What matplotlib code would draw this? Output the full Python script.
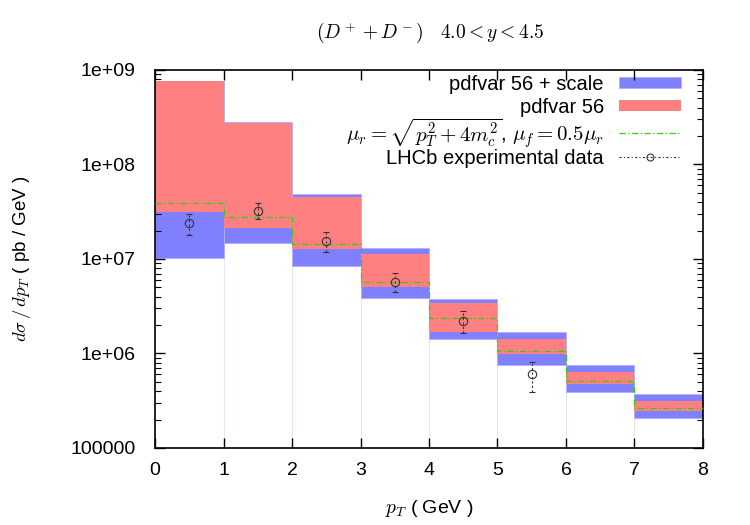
import numpy as np
import matplotlib
matplotlib.use('Agg')
import matplotlib.pyplot as plt
from matplotlib.patches import Rectangle
from matplotlib.lines import Line2D

plt.rcParams['font.family'] = ['Liberation Sans', 'DejaVu Sans']
plt.rcParams['mathtext.fontset'] = 'cm'

# %% data
edges = [0, 1, 2, 3, 4, 5, 6, 7, 8]
# pdfvar 56 + scale band
blue_lo = [1.03e7, 1.49e7, 8.5e6, 3.84e6, 1.44e6, 7.61e5, 3.94e5, 2.06e5]
blue_hi = [7.66e8, 2.80e8, 4.88e7, 1.30e7, 3.80e6, 1.70e6, 7.55e5, 3.72e5]
# pdfvar 56 band
red_lo = [3.16e7, 2.14e7, 1.27e7, 5.06e6, 1.68e6, 9.88e5, 4.79e5, 2.48e5]
red_hi = [7.66e8, 2.77e8, 4.53e7, 1.13e7, 3.45e6, 1.42e6, 6.41e5, 3.14e5]
# central scale choice
central = [3.88e7, 2.81e7, 1.44e7, 5.67e6, 2.38e6, 1.05e6, 5.16e5, 2.63e5]
# LHCb data
lhcb_pt = [0.5, 1.5, 2.5, 3.5, 4.5, 5.5]
lhcb_val = [2.39e7, 3.24e7, 1.55e7, 5.70e6, 2.22e6, 6.03e5]
lhcb_up = [2.99e7, 3.95e7, 1.92e7, 7.10e6, 2.82e6, 8.19e5]
lhcb_dn = [1.80e7, 2.63e7, 1.19e7, 4.43e6, 1.66e6, 3.88e5]

labels = ['pdfvar 56 + scale', 'pdfvar 56',
          r'$\mu_r = \sqrt{p_T^2 + 4m_c^2}$, $\mu_f = 0.5\mu_r$',
          'LHCb experimental data']

# %% plot
fig = plt.figure(figsize=(7.5, 5.25), dpi=100)
ax = fig.add_axes([0.2067, 0.1467, 0.7306, 0.72])

left = np.array(edges[:-1])
blue_lo = np.array(blue_lo); blue_hi = np.array(blue_hi)
red_lo = np.array(red_lo); red_hi = np.array(red_hi)

ax.vlines(left[1:], 1e5, blue_lo[1:], colors='#e4e4f4', lw=0.8, zorder=0)
ax.bar(left, blue_hi - blue_lo, bottom=blue_lo, width=1, align='edge',
       color='#8080ff', edgecolor='#b0b0ff', lw=0.6, zorder=1)
ax.bar(left, red_hi - red_lo, bottom=red_lo, width=1, align='edge',
       color='#ff8080', lw=0, zorder=2)
green_ls = (0, (5, 2, 1, 2))
ax.stairs(central, edges, baseline=None, color='#33cc11', lw=0.9,
          linestyle=green_ls, zorder=3)

val = np.array(lhcb_val)
err = [val - np.array(lhcb_dn), np.array(lhcb_up) - val]
eb = ax.errorbar(lhcb_pt, val, yerr=err, fmt='o', ms=6, mfc='none',
                 mec='#333333', mew=0.8, ecolor='#333333', elinewidth=0.8,
                 capsize=2, capthick=0.8, zorder=4)
eb[2][0].set_linestyle((0, (2, 2)))

ax.set_yscale('log')
ax.set_xlim(0, 8)
ax.set_ylim(1e5, 1e9)
ax.set_xticks(range(0, 9))
ax.set_yticks([1e5, 1e6, 1e7, 1e8, 1e9])
ax.set_yticklabels(['100000', '1e+06', '1e+07', '1e+08', '1e+09'])
ax.tick_params(which='both', direction='in', top=True, right=True, labelsize=14)
ax.tick_params(which='major', length=7, width=1)
ax.tick_params(which='minor', length=4, width=0.8)
ax.tick_params(axis='y', pad=14)
ax.tick_params(axis='x', pad=10)
ax.xaxis.set_minor_locator(matplotlib.ticker.NullLocator())
for s in ax.spines.values():
    s.set_linewidth(1.2)

ax.set_xlabel(r'$p_T$ ( GeV )', fontsize=14, labelpad=14)
ax.set_ylabel(r'$d\sigma\,/\,dp_T$ ( pb / GeV )', fontsize=13.5, labelpad=27)
fig.text(0.573, 0.937, r'$(D^+ + D^-)\quad 4.0 < y < 4.5$', ha='center',
         va='center', fontsize=14)

# %% key, gnuplot style (text right aligned, sample on the right)
tr = ax.transAxes
text_x, h0, h1 = 0.819, 0.847, 0.960
rows = [0.966, 0.905, 0.834, 0.769]
base = [0.0185, 0.0185, 0.023, 0.0185]
sizes = [14.5, 14.5, 15, 14.5]
for lab, ry, b, fs in zip(labels, rows, base, sizes):
    ax.text(text_x, ry - b, lab, transform=tr, ha='right', va='baseline',
            fontsize=fs)
ax.add_patch(Rectangle((h0, rows[0] - 0.0145), h1 - h0, 0.029, transform=tr,
                       facecolor='#8080ff', edgecolor='#b0b0ff', lw=0.6))
ax.add_patch(Rectangle((h0, rows[1] - 0.0145), h1 - h0, 0.029, transform=tr,
                       facecolor='#ff8080', lw=0))
ax.add_line(Line2D([h0, h1], [rows[2], rows[2]], transform=tr, color='#33cc11',
                   lw=0.9, linestyle=green_ls))
ax.add_line(Line2D([h0, h1], [rows[3], rows[3]], transform=tr, color='#333333',
                   lw=0.8, linestyle=(0, (2, 2, 1, 2))))
ax.add_line(Line2D([(h0 + h1) / 2], [rows[3]], transform=tr, marker='o',
                   mfc='none', mec='#333333', ms=5, mew=0.8))

fig.savefig('out.png', dpi=100)
